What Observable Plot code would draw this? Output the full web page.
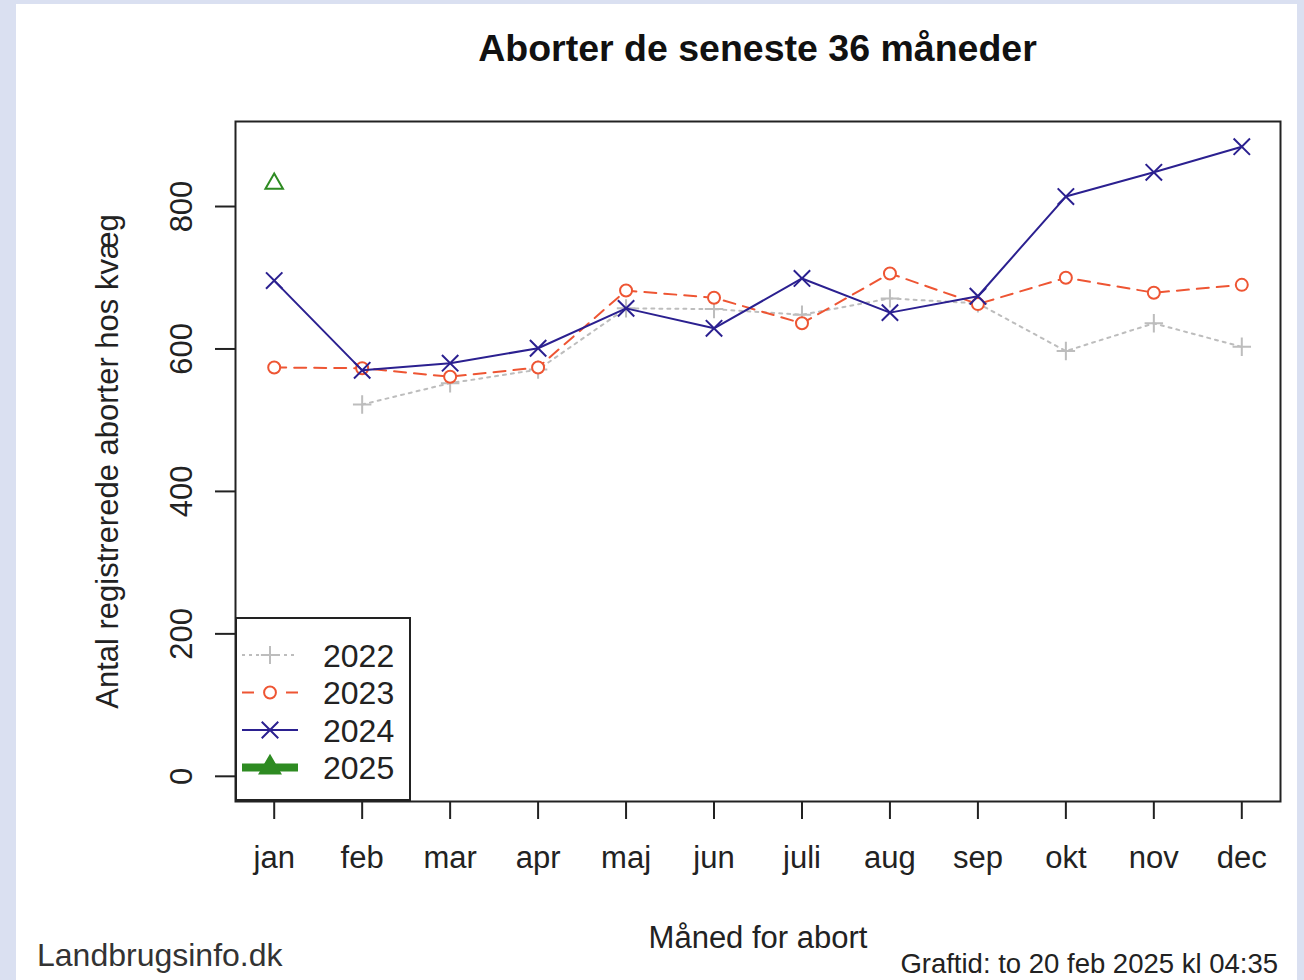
<!DOCTYPE html>
<html>
<head>
<meta charset="utf-8">
<script src="https://cdn.jsdelivr.net/npm/d3@7"></script>
<script src="https://cdn.jsdelivr.net/npm/@observablehq/plot@0.6"></script>
<style>
  html, body { margin: 0; padding: 0; }
  body { width: 1304px; height: 980px; background: #dae0f1; position: relative; overflow: hidden; font-family: "Liberation Sans", Arial, sans-serif; }
  #panel { position: absolute; left: 16px; top: 4px; width: 1281px; height: 976px; background: #fff; }
  #title { position: absolute; left: 235px; width: 1045px; top: 26px; text-align: center; font-weight: bold; font-size: 37.5px; color: #111; line-height: 44px; }
  #chart { position: absolute; left: 0; top: 100px; }
  #legend { position: absolute; left: 235px; top: 617px; width: 176px; height: 184px; box-sizing: border-box; border: 2px solid #222; background: #fff; }
  #site { position: absolute; left: 37px; top: 936px; font-family: Arial, "Liberation Sans", sans-serif; font-size: 32px; color: #333; line-height: 38px; }
  #stamp { position: absolute; right: 26px; top: 950px; font-size: 27.5px; color: #222; line-height: 28px; }
</style>
</head>
<body>
<div id="panel"></div>
<div id="title">Aborter de seneste 36 måneder</div>
<div id="chart"></div>
<div id="legend"></div>
<div id="site">Landbrugsinfo.dk</div>
<div id="stamp">Graftid: to 20 feb 2025 kl 04:35</div>
<script>
const months = ["jan","feb","mar","apr","maj","jun","juli","aug","sep","okt","nov","dec"];
const years = ["2022","2023","2024","2025"];
const y2022 = [null,522,552,571,657,656,648,671,664,597,636,603];
const y2023 = [574,573,561,574,682,672,636,706,663,700,679,690];
const y2024 = [696,570,580,601,657,629,699,651,674,814,848,884];
const y2025 = [832];
const yTicks = [0,200,400,600,800];

const colors = {"2022":"#bdbdbd","2023":"#ee5533","2024":"#2b2090","2025":"#2e8b22"};
const dashes = {"2022":"3,5","2023":"12,8","2024":null,"2025":null};

function rows(arr, year) {
  return arr.map((v, i) => ({m: i + 1, v, year})).filter(d => d.v != null);
}
const d2022 = rows(y2022, "2022");
const d2023 = rows(y2023, "2023");
const d2024 = rows(y2024, "2024");
const d2025 = rows(y2025, "2025");

const yMax = d3.max([...y2022, ...y2023, ...y2024, ...y2025]);
const yPad = yMax * 0.04;

const chart = Plot.plot({
  width: 1304,
  height: 850,
  marginLeft: 235,
  marginRight: 24,
  marginTop: 21,
  marginBottom: 149,
  style: {fontFamily: "'Liberation Sans', Arial, sans-serif", fontSize: "31px", color: "#222", background: "transparent", overflow: "visible"},
  x: {domain: [1 - 11 * 0.04, 12 + 11 * 0.04]},
  y: {domain: [-yPad, yMax + yPad]},
  marks: [
    Plot.axisX({ticks: d3.range(1, 13), tickFormat: i => months[i - 1], tickSize: 18, tickPadding: 26, strokeWidth: 2,
      label: "Måned for abort", labelAnchor: "center", labelArrow: "none", labelOffset: 146, fontSize: 31}),
    Plot.axisY({ticks: yTicks, tickSize: 20, tickRotate: -90, tickPadding: 24, strokeWidth: 2,
      label: "Antal registrerede aborter hos kvæg", labelAnchor: "center", labelArrow: "none", labelOffset: 140, fontSize: 31}),
    Plot.line(d2022, {x: "m", y: "v", stroke: colors["2022"], strokeWidth: 2, strokeDasharray: dashes["2022"]}),
    Plot.dot(d2022, {x: "m", y: "v", symbol: "plus", r: 6, stroke: colors["2022"], strokeWidth: 2}),
    Plot.line(d2023, {x: "m", y: "v", stroke: colors["2023"], strokeWidth: 2, strokeDasharray: dashes["2023"]}),
    Plot.dot(d2023, {x: "m", y: "v", symbol: "circle", r: 6, stroke: colors["2023"], fill: "white", strokeWidth: 2}),
    Plot.line(d2024, {x: "m", y: "v", stroke: colors["2024"], strokeWidth: 2}),
    Plot.dot(d2024, {x: "m", y: "v", symbol: "times", r: 7.5, stroke: colors["2024"], strokeWidth: 2}),
    Plot.dot(d2025, {x: "m", y: "v", symbol: "triangle", r: 6.5, stroke: colors["2025"], strokeWidth: 2}),
    Plot.frame({stroke: "#222", strokeWidth: 2})
  ]
});
document.getElementById("chart").appendChild(chart);

// Legend
const lg = d3.select("#legend").append("svg").attr("width", 172).attr("height", 180)
  .style("position", "absolute").style("left", "0").style("top", "0");
const sym = {"2022": d3.symbolPlus, "2023": d3.symbolCircle, "2024": d3.symbolTimes, "2025": d3.symbolTriangle2};
const symSize = {"2022": 110, "2023": 110, "2024": 180, "2025": 130};
years.forEach((yr, i) => {
  const cy = 36 + i * 37.5;
  const g = lg.append("g");
  g.append("line").attr("x1", 5).attr("x2", 61).attr("y1", cy).attr("y2", cy)
    .attr("stroke", colors[yr]).attr("stroke-width", yr === "2025" ? 8 : 2)
    .attr("stroke-dasharray", yr === "2022" ? "3,4" : yr === "2023" ? "12,10" : null);
  g.append("path").attr("d", d3.symbol(sym[yr], yr === "2025" ? 300 : symSize[yr])())
    .attr("transform", `translate(33,${cy})`)
    .attr("fill", yr === "2025" ? colors[yr] : (yr === "2023" ? "white" : "none"))
    .attr("stroke", colors[yr]).attr("stroke-width", 2);
  g.append("text").attr("x", 86).attr("y", cy).attr("dy", "0.36em")
    .attr("font-size", 32).attr("fill", "#222").attr("font-family", "'Liberation Sans', Arial, sans-serif").text(yr);
});
</script>
</body>
</html>
